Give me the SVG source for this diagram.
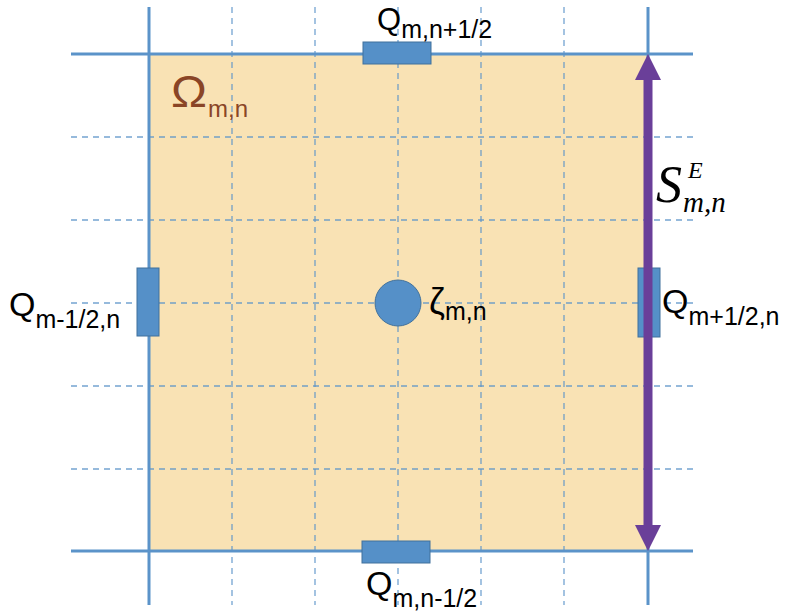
<svg xmlns="http://www.w3.org/2000/svg" width="785" height="615" viewBox="0 0 785 615">
<defs>
<style>
.grid{stroke:#5B93C9;stroke-width:1.3;stroke-dasharray:6 5;fill:none;stroke-opacity:0.85}
.solid{stroke:#5B93C9;stroke-width:3;fill:none}
.blk{fill:#5590C8;stroke:#41719C;stroke-width:1}
.lbl{font-family:"Liberation Sans","Open Sans",sans-serif;fill:#000}
.sub{font-size:25px}
.it{font-family:"Liberation Serif",serif;font-style:italic;fill:#000}
</style>
</defs>
<rect x="149" y="54" width="499" height="497" fill="#F9E2B4"/>
<g id="grid">
<line class="grid" x1="232" y1="7" x2="232" y2="605"/>
<line class="grid" x1="315" y1="7" x2="315" y2="605"/>
<line class="grid" x1="398" y1="7" x2="398" y2="605"/>
<line class="grid" x1="481" y1="7" x2="481" y2="605"/>
<line class="grid" x1="564" y1="7" x2="564" y2="605"/>
<line class="grid" x1="71" y1="137" x2="693" y2="137"/>
<line class="grid" x1="71" y1="220" x2="693" y2="220"/>
<line class="grid" x1="71" y1="303" x2="693" y2="303"/>
<line class="grid" x1="71" y1="386" x2="693" y2="386"/>
<line class="grid" x1="71" y1="469" x2="693" y2="469" stroke-opacity="0.5"/>
<line class="solid" x1="149" y1="7" x2="149" y2="605"/>
<line class="solid" x1="648" y1="7" x2="648" y2="605"/>
<line class="solid" x1="71" y1="54" x2="693" y2="54"/>
<line class="solid" x1="71" y1="551" x2="693" y2="551"/>
</g>
<g id="omega">
<text x="171" y="107" font-family="'Liberation Sans','Open Sans',sans-serif" font-size="44" fill="#8A4526" textLength="36" lengthAdjust="spacingAndGlyphs">Ω</text>
<text x="208" y="117" font-family="'Liberation Sans','Open Sans',sans-serif" font-size="24" fill="#8A4526">m,n</text>
</g>
<g id="q-top">
<rect class="blk" x="363" y="42" width="68" height="22"/>
<text class="lbl" x="377" y="30" font-size="31">Q<tspan class="sub" dy="8">m,n+1/2</tspan></text>
</g>
<g id="q-bottom">
<rect class="blk" x="362" y="541" width="68" height="22"/>
<text class="lbl" x="366" y="595" font-size="34">Q<tspan class="sub" dy="12">m,n-1/2</tspan></text>
</g>
<g id="q-left">
<rect class="blk" x="137" y="268" width="22" height="68"/>
<text class="lbl" x="9" y="316" font-size="34">Q<tspan class="sub" dy="12">m-1/2,n</tspan></text>
</g>
<g id="q-right">
<rect class="blk" x="638" y="268" width="22" height="69"/>
<text class="lbl" x="662" y="313" font-size="34">Q<tspan class="sub" dy="12">m+1/2,n</tspan></text>
</g>
<g id="zeta">
<circle cx="398" cy="303" r="23" fill="#5590C8" stroke="#41719C" stroke-width="1"/>
<text class="lbl" x="429" y="314" font-size="36">ζ<tspan class="sub" dy="6">m,n</tspan></text>
</g>
<g id="connectors">
<line x1="648" y1="78" x2="648" y2="527" stroke="#6A3F99" stroke-width="9"/>
<polygon points="648,54 661,80 635,80" fill="#6A3F99"/>
<polygon points="648,551 661,525 635,525" fill="#6A3F99"/>
</g>
<g id="s-label">
<text class="it" x="656" y="202" font-size="52">S</text>
<text class="it" x="688" y="178" font-size="24">E</text>
<text class="it" x="683" y="212" font-size="29">m,n</text>
</g>
</svg>
